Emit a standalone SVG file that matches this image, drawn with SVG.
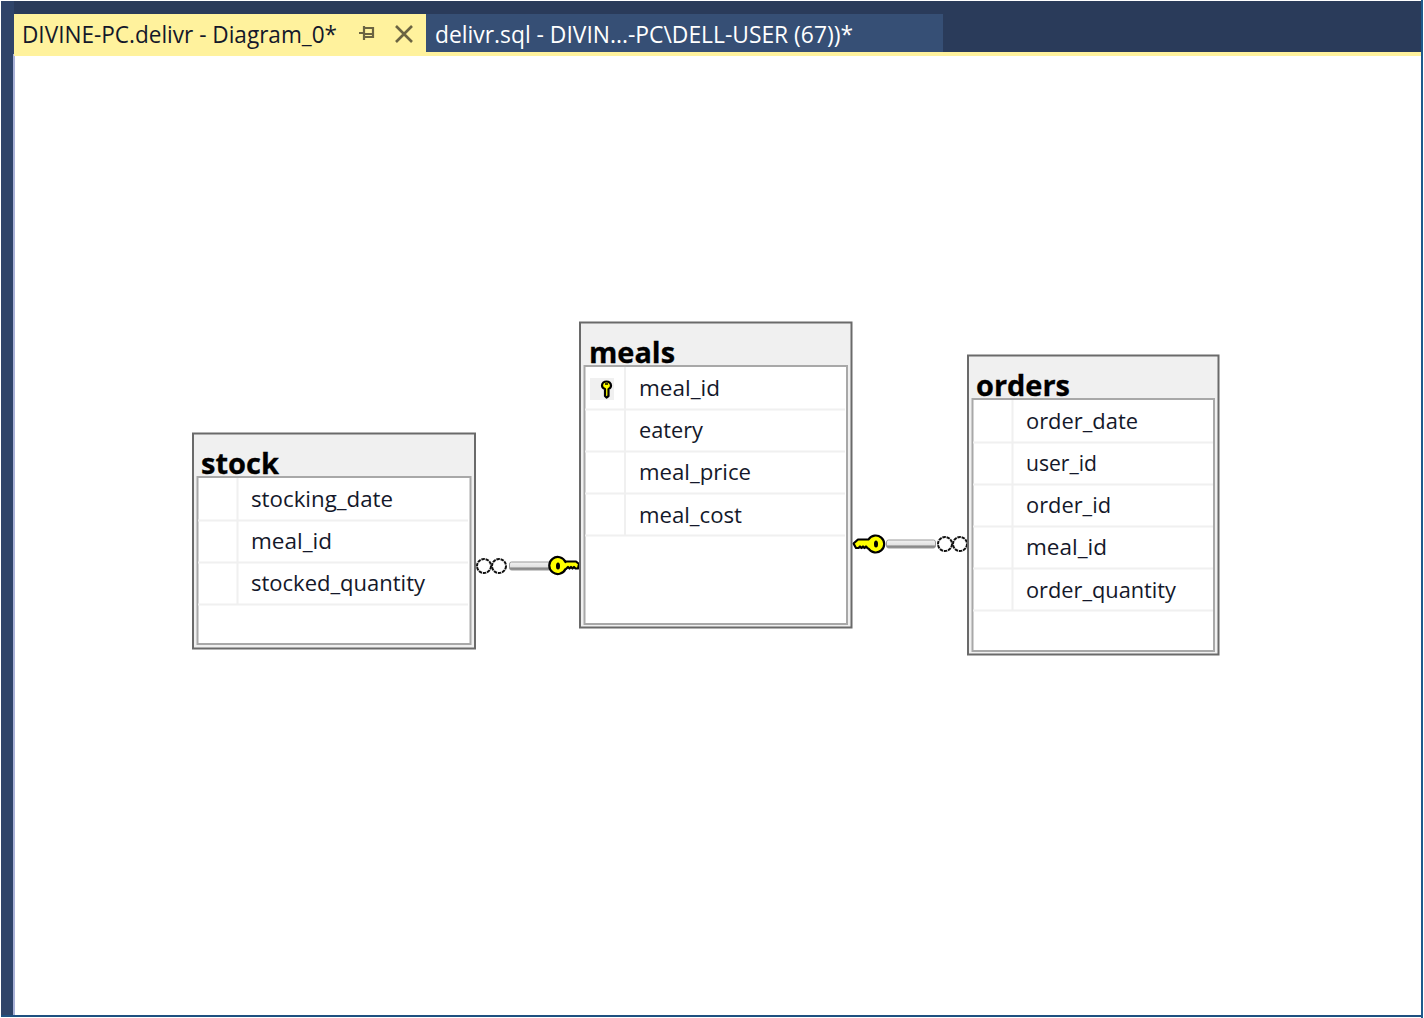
<svg xmlns="http://www.w3.org/2000/svg" width="1424" height="1018" viewBox="0 0 1424 1018">
<defs>
<linearGradient id="bar" x1="0" y1="0" x2="0" y2="1"><stop offset="0" stop-color="#f2f2f2"/><stop offset="0.6" stop-color="#e2e2e2"/><stop offset="0.75" stop-color="#8a8a8a"/><stop offset="1" stop-color="#8a8a8a"/></linearGradient>
</defs>
<style>
text{font-family:"Open Sans","Noto Sans","Liberation Sans",sans-serif;font-size:22.500px;fill:#14182a}
.tab{font-size:24px}
.title{font-size:29px;font-weight:700;fill:#000;stroke:#000;stroke-width:.3}
.frame{fill:#f0f0f0;stroke:#6a6a6a;stroke-width:2}
.inner{fill:#fff;stroke:#a8a8a8;stroke-width:2}
.grid{stroke:#f0f0f0;stroke-width:2;fill:none}
.key{fill:#ffff00;stroke:#000;stroke-width:2.200;stroke-linejoin:round}
.inf{fill:#fff;stroke:#111;stroke-width:2;stroke-dasharray:3.500 .8}
.bar{fill:url(#bar);stroke:#9a9a9a;stroke-width:1}
</style>
<rect width="1424" height="1018" fill="#fff"/>
<g id="chrome">
<rect x="1" y="1" width="1420" height="53" fill="#2a3b5a"/>
<rect x="1" y="1" width="13" height="1015" fill="#2f4469"/>
<rect x="13" y="54" width="2" height="962" fill="#a9b2d8"/>
<rect x="1" y="1015" width="1421" height="2" fill="#1e5080"/>
<rect x="1421" y="0" width="2" height="1018" fill="#1e5a8c"/>
<rect x="14" y="52" width="1407" height="4" fill="#fff29d"/>
<rect x="14" y="14" width="412" height="41" fill="#fff29d"/>
<rect x="426" y="14" width="517" height="38" fill="#364f75"/>
<text class="tab" x="22" y="43" textLength="315" lengthAdjust="spacingAndGlyphs">DIVINE-PC.delivr - Diagram_0*</text>
<path d="M359 33h5M364 26v14M364 28h9v9h-9M364 34h9" fill="none" stroke="#6b6442" stroke-width="2.200"/>
<path d="M396 26l16 16M412 26l-16 16" fill="none" stroke="#6b6442" stroke-width="2.600"/>
<text class="tab" x="435" y="43" textLength="418" lengthAdjust="spacingAndGlyphs" style="fill:#fff">delivr.sql - DIVIN...-PC\DELL-USER (67))*</text>
</g>
<g id="connectors">
<g id="stock-meals">
<circle class="inf" cx="484" cy="566" r="7"/><circle class="inf" cx="499" cy="566" r="7"/>
<rect class="bar" x="509.500" y="562" width="41" height="8" rx="2"/>
<path class="key" d="M566 561.500H576l3 2.500-1 4.500h-2.500l-1.500-1.500-1.500 1.500-1.500-1.500-1.500 1.500-1.500-1.500-2 2h-.5a8.500 8.500 0 1 1 0-7z"/>
<ellipse cx="558" cy="566" rx="2" ry="3.500" fill="#000"/>
</g>
<g id="meals-orders">
<rect class="bar" x="886.500" y="540" width="49" height="8" rx="2"/>
<path class="key" d="M868 539.500H858l-4.500 4 2.500 4.500h2.500l1.500-1.500 1.500 1.500 1.500-1.500 1.500 1.500 1.500-1.500 2 2h.5a8.500 8.500 0 1 0 0-9z"/>
<ellipse cx="876" cy="544" rx="2" ry="3.500" fill="#000"/>
<circle class="inf" cx="945" cy="544" r="7"/><circle class="inf" cx="960" cy="544" r="7"/>
</g>
</g>
<g id="stock">
<rect class="frame" x="193" y="433.500" width="282" height="215"/>
<rect class="inner" x="197.500" y="477" width="273" height="167"/>
<path class="grid" d="M198 520.500h270M198 562.500h270M198 604.500h270M237.500 478v126"/>
<text class="title" x="201" y="474" textLength="78" lengthAdjust="spacingAndGlyphs">stock</text>
<text x="251" y="507" textLength="142" lengthAdjust="spacingAndGlyphs">stocking_date</text>
<text x="251" y="549" textLength="81" lengthAdjust="spacingAndGlyphs">meal_id</text>
<text x="251" y="591" textLength="174" lengthAdjust="spacingAndGlyphs">stocked_quantity</text>
</g>
<g id="meals">
<rect class="frame" x="580" y="322.500" width="271.500" height="305"/>
<rect class="inner" x="584.500" y="366" width="262.500" height="258"/>
<path class="grid" d="M585 409.500h260M585 451.500h260M585 493.500h260M585 535.500h260M625 367v168"/>
<rect x="590" y="378" width="24" height="22" fill="#f0f0f0"/>
<path d="M602 385.500a4.500 4 0 0 1 9 0c0 2-1 3-2.500 3.500v7l-2 1.500-1.500-1.500v-7c-1.500-.5-3-1.500-3-3.500z" class="key" stroke-width="1.500"/>
<path d="M605 384h3" stroke="#000" stroke-width="1.500"/>
<text class="title" x="589" y="363" textLength="86" lengthAdjust="spacingAndGlyphs">meals</text>
<text x="639" y="396" textLength="81" lengthAdjust="spacingAndGlyphs">meal_id</text>
<text x="639" y="438" textLength="64" lengthAdjust="spacingAndGlyphs">eatery</text>
<text x="639" y="480" textLength="112" lengthAdjust="spacingAndGlyphs">meal_price</text>
<text x="639" y="522.500" textLength="103" lengthAdjust="spacingAndGlyphs">meal_cost</text>
</g>
<g id="orders">
<rect class="frame" x="968" y="355.500" width="250.500" height="299"/>
<rect class="inner" x="972.500" y="399" width="241.500" height="252"/>
<path class="grid" d="M973 442.500h240M973 484.500h240M973 526.500h240M973 568.500h240M973 610.500h240M1012.500 400v210"/>
<text class="title" x="976" y="396" textLength="94" lengthAdjust="spacingAndGlyphs">orders</text>
<text x="1026" y="429" textLength="112" lengthAdjust="spacingAndGlyphs">order_date</text>
<text x="1026" y="471" textLength="71" lengthAdjust="spacingAndGlyphs">user_id</text>
<text x="1026" y="513" textLength="85" lengthAdjust="spacingAndGlyphs">order_id</text>
<text x="1026" y="555" textLength="81" lengthAdjust="spacingAndGlyphs">meal_id</text>
<text x="1026" y="598" textLength="150" lengthAdjust="spacingAndGlyphs">order_quantity</text>
</g>
</svg>
